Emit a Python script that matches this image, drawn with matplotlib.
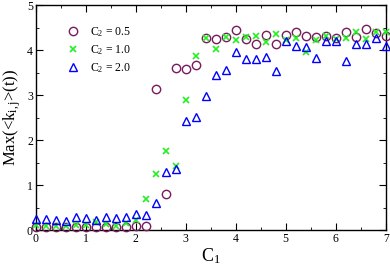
import numpy as np
import matplotlib
matplotlib.use("Agg")
import matplotlib.pyplot as plt
from matplotlib.ticker import MultipleLocator

plt.rcParams['font.family'] = ['Liberation Serif', 'DejaVu Serif']
plt.rcParams['mathtext.fontset'] = 'custom'
plt.rcParams['mathtext.rm'] = 'Liberation Serif'
plt.rcParams['mathtext.it'] = 'Liberation Serif'

c1 = [round(0.2 * i, 1) for i in range(36)]

c2_05 = [0.07, 0.06, 0.07, 0.07, 0.07, 0.07, 0.07, 0.07, 0.07, 0.07, 0.08, 0.10,
         3.13, 0.81, 3.61, 3.57, 3.67, 4.26, 4.24, 4.28, 4.45, 4.24, 4.14, 4.33,
         4.13, 4.33, 4.41, 4.31, 4.28, 4.31, 4.27, 4.41, 4.30, 4.46, 4.37, 4.31]
c2_10 = [0.12, 0.10, 0.10, 0.10, 0.12, 0.12, 0.17, 0.13, 0.10, 0.15, 0.22, 0.69,
         1.25, 1.75, 1.43, 2.89, 3.87, 4.27, 4.03, 4.30, 4.22, 4.30, 4.32, 4.18,
         4.35, 4.22, 4.26, 3.95, 4.22, 4.32, 4.24, 4.26, 4.41, 4.24, 4.40, 4.40]
c2_20 = [0.24, 0.24, 0.23, 0.21, 0.29, 0.26, 0.23, 0.28, 0.26, 0.29, 0.35, 0.33,
         0.61, 1.30, 1.35, 2.42, 2.52, 2.97, 3.44, 3.55, 3.96, 3.81, 3.80, 3.84,
         3.53, 4.20, 4.10, 4.06, 3.83, 4.20, 4.20, 3.76, 4.13, 4.14, 4.26, 4.10]

labels = [r'C$_2$ = 0.5', r'C$_2$ = 1.0', r'C$_2$ = 2.0']

fig = plt.figure(figsize=(3.9, 2.66), dpi=100)
ax = fig.add_axes([0.0915, 0.135, 0.8975, 0.846])

ax.plot(c1, c2_05, linestyle='none', marker='o', ms=6, mfc='none', mec='#7a1a5e', mew=1.0,
        label=labels[0], clip_on=False, zorder=3)
ax.plot(c1, c2_10, linestyle='none', marker='x', ms=4, color='#22ee22', mew=1.2,
        label=labels[1], clip_on=False, zorder=3)
ax.plot(c1, c2_20, linestyle='none', marker='^', ms=6, mfc='none', mec='#0000ff', mew=1.0,
        label=labels[2], clip_on=False, zorder=3)

ax.set_xlim(0, 7)
ax.set_ylim(0, 5)
ax.xaxis.set_major_locator(MultipleLocator(1))
ax.xaxis.set_minor_locator(MultipleLocator(0.5))
ax.yaxis.set_major_locator(MultipleLocator(1))
ax.yaxis.set_minor_locator(MultipleLocator(0.5))
ax.tick_params(which='both', direction='in', top=True, right=True, labelsize=8.5, pad=2)
ax.tick_params(which='major', length=5)
ax.tick_params(which='minor', length=2.5)
for s in ax.spines.values():
    s.set_linewidth(1.0)

ax.set_xlabel(r'C$_1$', fontsize=13, labelpad=1)
ax.set_ylabel(r'Max(<k$_{\rm i,j}$>(t))', fontsize=12, labelpad=3)

ax.legend(loc='upper left', bbox_to_anchor=(0.085, 0.912), frameon=False, fontsize=8.5,
          handlelength=1.2, handletextpad=0.9, labelspacing=0.35, borderpad=0, borderaxespad=0)

fig.savefig('out.png', dpi=100)
